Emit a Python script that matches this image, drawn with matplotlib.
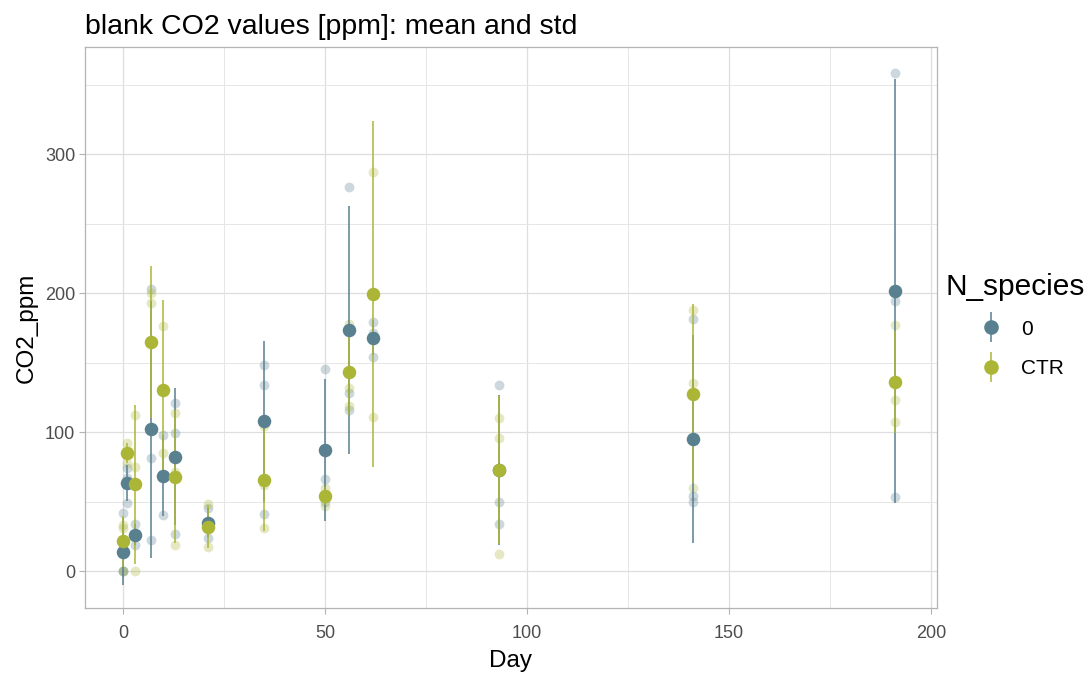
import matplotlib.pyplot as plt
from matplotlib.lines import Line2D
from matplotlib.legend_handler import HandlerTuple
from matplotlib.ticker import MultipleLocator
import numpy as np
import pandas as pd

plt.rcParams['font.family'] = ['Liberation Sans', 'DejaVu Sans']

days = [0, 1, 3, 7, 10, 13, 21, 35, 50, 56, 62, 93, 141, 191]

# blank CO2 readings (ppm) per sampling day
co2_0 = [[0, 0, 42], [74, 67, 49], [34, 19, 25], [203, 81, 22], [98, 40, 68],
         [121, 99, 27], [45, 24, 35], [148, 134, 41], [145, 66, 50],
         [276, 128, 116], [179, 171, 154], [134, 50, 34], [181, 54, 50],
         [358, 194, 53]]
co2_ctr = [[0, 31, 33], [92, 78, 85], [112, 75, 0], [200, 193, 102], [176, 85],
           [114, 19, 71], [48, 17, 31], [104, 62, 31], [60, 55, 47],
           [178, 132, 119], [287, 111], [110, 96, 12], [188, 135, 60],
           [177, 123, 107]]

groups = ['0', 'CTR']
colors = {'0': '#58808F', 'CTR': '#ACB636'}

rows = []
for g, vals in zip(groups, [co2_0, co2_ctr]):
    for d, v in zip(days, vals):
        for x in v:
            rows.append({'Day': d, 'N_species': g, 'CO2_ppm': x})
df = pd.DataFrame(rows)
summ = df.groupby(['N_species', 'Day'])['CO2_ppm'].agg(['mean', 'std']).reset_index()

fig = plt.figure(figsize=(10.91, 6.78), dpi=100)
ax = fig.add_axes([0.0779, 0.1032, 0.7809, 0.8275])

for g in groups:
    d = df[df['N_species'] == g]
    ax.scatter(d['Day'], d['CO2_ppm'], s=50, color=colors[g], alpha=0.3,
               linewidths=0, zorder=2)

for g in groups:
    s = summ[summ['N_species'] == g]
    ax.vlines(s['Day'], s['mean'] - s['std'], s['mean'] + s['std'],
              color=colors[g], lw=1.1, zorder=3)
for g in groups:
    s = summ[summ['N_species'] == g]
    ax.scatter(s['Day'], s['mean'], s=95, color=colors[g], linewidths=0, zorder=4)

ax.set_xlim(-9.4, 201.5)
ax.set_ylim(-26.6, 377)
ax.xaxis.set_major_locator(MultipleLocator(50))
ax.xaxis.set_minor_locator(MultipleLocator(25))
ax.yaxis.set_major_locator(MultipleLocator(100))
ax.yaxis.set_minor_locator(MultipleLocator(50))
ax.grid(which='major', color='#DEDEDE', lw=0.9)
ax.grid(which='minor', color='#E6E6E6', lw=0.7)
ax.set_axisbelow(True)
for sp in ax.spines.values():
    sp.set_color('#B3B3B3')
    sp.set_linewidth(0.9)
ax.tick_params(which='major', length=4, color='#B3B3B3', labelsize=13,
               labelcolor='#4D4D4D')
ax.tick_params(axis='x', pad=8)
ax.tick_params(axis='y', pad=3)
ax.tick_params(which='minor', length=0)

ax.set_xlabel('Day', fontsize=17.5, labelpad=6)
ax.set_ylabel('CO2_ppm', fontsize=17.5, labelpad=5)
ax.set_title('blank CO2 values [ppm]: mean and std', loc='left', fontsize=20.5, pad=9)

# legend: title as plain text, keys are a vertical range bar with the mean dot
fig.text(945 / 1091, 1 - 287 / 678, 'N_species', fontsize=21.5, va='center', ha='left')
handles = []
for g in groups:
    bar = Line2D([], [], marker='|', markersize=22, markeredgewidth=1.1,
                 color=colors[g], linestyle='none')
    dot = Line2D([], [], marker='o', markersize=9.5, color=colors[g], linestyle='none')
    handles.append((bar, dot))
fig.legend(handles, groups, loc='center left',
           bbox_to_anchor=(966 / 1091, 1 - 349 / 678), frameon=False, fontsize=15,
           handler_map={tuple: HandlerTuple(ndivide=1)},
           handlelength=2.0, labelspacing=1.0, handletextpad=0.45,
           borderaxespad=0, borderpad=0.2)

fig.savefig('out.png', dpi=100)
